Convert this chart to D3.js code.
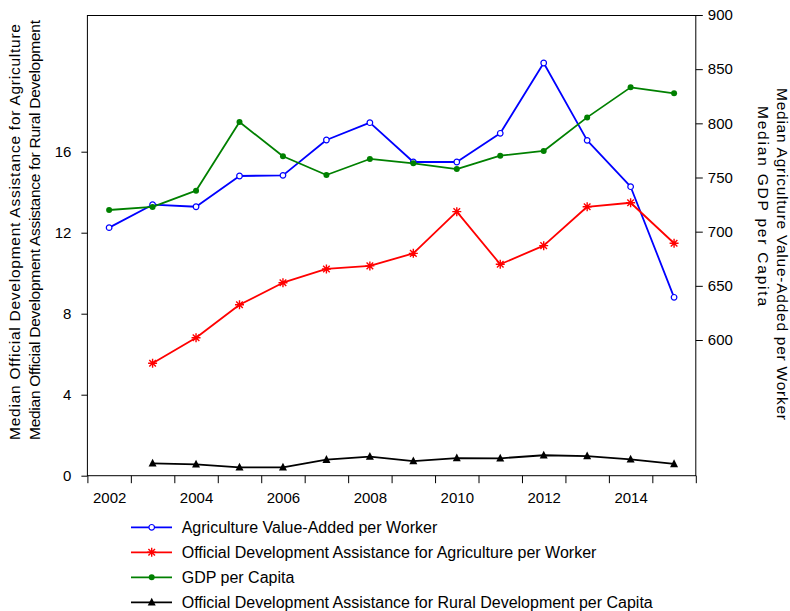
<!DOCTYPE html>
<html>
<head>
<meta charset="utf-8">
<script src="https://cdn.jsdelivr.net/npm/d3@7/dist/d3.min.js"></script>
<style>
  html, body { margin: 0; padding: 0; background: #fff; }
  svg text { font-family: "Liberation Sans", Arial, Helvetica, sans-serif; fill: #000; }
</style>
</head>
<body>
<svg id="chart" width="790" height="611"></svg>
<script>
// ---- data ----
const years = [2002, 2003, 2004, 2005, 2006, 2007, 2008, 2009, 2010, 2011, 2012, 2013, 2014, 2015];
const agriValueAdded = [703.7, 724.9, 723.0, 751.4, 752.0, 784.6, 800.6, 764.3, 764.3, 790.8, 855.7, 784.3, 741.5, 639.4];
const gdpPerCapita = [720.0, 722.8, 737.8, 801.2, 769.6, 752.3, 767.1, 763.1, 757.8, 770.1, 774.5, 805.5, 833.2, 827.7];
const odaAgriculture = [null, 5.55, 6.81, 8.44, 9.53, 10.21, 10.36, 10.98, 13.04, 10.44, 11.36, 13.28, 13.48, 11.48];
const odaRural = [null, 0.61, 0.56, 0.41, 0.41, 0.79, 0.94, 0.72, 0.87, 0.86, 1.01, 0.97, 0.81, 0.58];
const leftTicks = [0, 4, 8, 12, 16];
const rightTicks = [600, 650, 700, 750, 800, 850, 900];
const xLabelYears = [2002, 2004, 2006, 2008, 2010, 2012, 2014];
const xTickBounds = [2001.5, 2002.5, 2003.5, 2004.5, 2005.5, 2006.5, 2007.5, 2008.5, 2009.5, 2010.5, 2011.5, 2012.5, 2013.5, 2014.5, 2015.5];
const leftTitle = ["Median Official Development Assistance for Agriculture", "Median Official Development Assistance for Rural Development"];
const rightTitle = ["Median Agriculture Value-Added per Worker", "Median GDP per Capita"];
const seriesNames = ["Agriculture Value-Added per Worker", "Official Development Assistance for Agriculture per Worker", "GDP per Capita", "Official Development Assistance for Rural Development per Capita"];

// ---- layout ----
const svg = d3.select("#chart");
const L = 87.4, R = 695.8, T = 15.5, B = 475.7;
const TICKFONT = 15, TITLEFONT = 15.5, LEGFONT = 16;
const FF = "Liberation Sans, Arial, sans-serif";

const x = d3.scaleLinear().domain([2001.5, 2015.5]).range([L, R]);
const yL = d3.scaleLinear().domain([0, 16]).range([B, 151.7]);
const yR = d3.scaleLinear().domain([600, 900]).range([340, 15]);

// box
svg.append("rect").attr("x", L).attr("y", T).attr("width", R - L).attr("height", B - T)
  .attr("fill", "none").attr("stroke", "#000").attr("stroke-width", 1);

// left axis
const gL = svg.append("g").attr("transform", `translate(${L},0)`)
  .call(d3.axisLeft(yL).tickValues(leftTicks).tickSize(6).tickSizeOuter(0).tickPadding(10));
gL.select(".domain").remove();
gL.selectAll("text").style("font-size", TICKFONT + "px").style("font-family", FF);

// right axis
const gR = svg.append("g").attr("transform", `translate(${R},0)`)
  .call(d3.axisRight(yR).tickValues(rightTicks).tickSize(7).tickSizeOuter(0).tickPadding(5));
gR.select(".domain").remove();
gR.selectAll("text").style("font-size", TICKFONT + "px").style("font-family", FF);

// x axis: ticks at year boundaries, labels on even years
const gX = svg.append("g").attr("transform", `translate(0,${B})`)
  .call(d3.axisBottom(x).tickValues(xTickBounds).tickSize(7.5).tickSizeOuter(0).tickFormat(""));
gX.select(".domain").remove();
const gXL = svg.append("g").attr("transform", `translate(0,${B})`)
  .call(d3.axisBottom(x).tickValues(xLabelYears).tickSize(0).tickPadding(16.5).tickFormat(d3.format("d")));
gXL.select(".domain").remove();
gXL.selectAll("text").style("font-size", TICKFONT + "px").style("font-family", FF);

svg.selectAll(".tick line").attr("stroke", "#000");

// axis titles
const lt = svg.append("g").attr("transform", "translate(0,440) rotate(-90)");
lt.append("text").attr("x", 0).attr("y", 20).attr("font-size", TITLEFONT)
  .attr("textLength", 416).attr("lengthAdjust", "spacing").text(leftTitle[0]);
lt.append("text").attr("x", 0).attr("y", 40).attr("font-size", TITLEFONT)
  .attr("textLength", 420).attr("lengthAdjust", "spacing").text(leftTitle[1]);

const rt = svg.append("g").attr("transform", "translate(790,88) rotate(90)");
rt.append("text").attr("x", 0).attr("y", 13).attr("font-size", TITLEFONT)
  .attr("textLength", 332).attr("lengthAdjust", "spacing").text(rightTitle[0]);
rt.append("text").attr("x", 18).attr("y", 32).attr("font-size", TITLEFONT)
  .attr("textLength", 200).attr("lengthAdjust", "spacing").text(rightTitle[1]);

// ---- series ----
const asterisk = "M-4.5,0L4.5,0M0,-4.5L0,4.5M-3.3,-3.3L3.3,3.3M-3.3,3.3L3.3,-3.3";
const triangle = "M0,-4.6L4,3.2L-4,3.2Z";

const series = [
  { name: seriesNames[0], values: agriValueAdded, y: yR, color: "#0000ff", marker: "open" },
  { name: seriesNames[1], values: odaAgriculture, y: yL, color: "#ff0000", marker: "star" },
  { name: seriesNames[2], values: gdpPerCapita, y: yR, color: "#008000", marker: "dot" },
  { name: seriesNames[3], values: odaRural, y: yL, color: "#000000", marker: "tri" }
];

function drawMarker(g, type, color) {
  if (type === "open") {
    g.append("circle").attr("r", 2.8).attr("fill", "#fff").attr("stroke", color).attr("stroke-width", 1.2);
  } else if (type === "dot") {
    g.append("circle").attr("r", 3).attr("fill", color);
  } else if (type === "star") {
    g.append("path").attr("d", asterisk).attr("stroke", color).attr("stroke-width", 1.4).attr("fill", "none");
  } else {
    g.append("path").attr("d", triangle).attr("fill", color);
  }
}

series.forEach(s => {
  const pts = years.map((yr, i) => ({ yr, v: s.values[i] })).filter(d => d.v !== null);
  const line = d3.line().x(d => x(d.yr)).y(d => s.y(d.v));
  svg.append("path").datum(pts).attr("d", line).attr("fill", "none")
    .attr("stroke", s.color).attr("stroke-width", 1.8).attr("stroke-linejoin", "round");
  pts.forEach(d => {
    const g = svg.append("g").attr("transform", `translate(${x(d.yr)},${s.y(d.v)})`);
    drawMarker(g, s.marker, s.color);
  });
});

// ---- legend ----
const legend = svg.append("g");
series.forEach((s, i) => {
  const cy = 527.3 + i * 25;
  legend.append("line").attr("x1", 131).attr("x2", 172).attr("y1", cy).attr("y2", cy)
    .attr("stroke", s.color).attr("stroke-width", 1.8);
  const g = legend.append("g").attr("transform", `translate(151.7,${cy})`);
  drawMarker(g, s.marker, s.color);
  legend.append("text").attr("x", 181.7).attr("y", cy + 5.5).attr("font-size", LEGFONT).text(s.name);
});
</script>
</body>
</html>
